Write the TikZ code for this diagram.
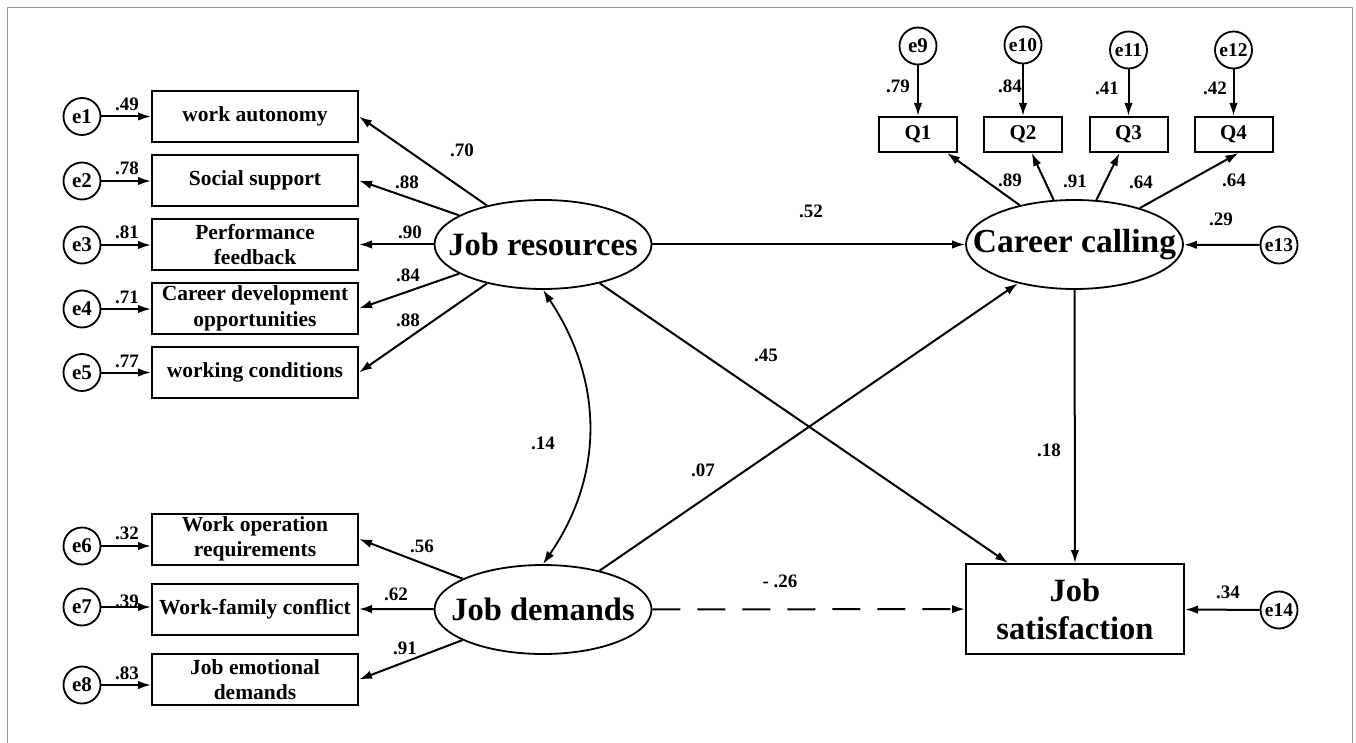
\documentclass[tikz,border=0pt]{standalone}
\usepackage{fontspec}
\setmainfont{Liberation Serif}
\usetikzlibrary{arrows.meta,shapes.geometric,calc}

\begin{document}
\begin{tikzpicture}[x=1pt,y=-1pt,line width=2pt,
  obs/.style={draw,rectangle,minimum width=206pt,minimum height=51pt,inner sep=0pt,align=center,
    font=\bfseries\fontsize{21.5}{25.5}\selectfont},
  qbox/.style={draw,rectangle,minimum width=78pt,minimum height=35pt,inner sep=0pt,
    font=\bfseries\fontsize{21}{24}\selectfont},
  lat/.style={draw,ellipse,minimum width=217pt,minimum height=89pt,inner sep=0pt,line width=1.8pt,
    font=\bfseries\fontsize{32.5}{37}\selectfont},
  outc/.style={draw,rectangle,minimum width=218pt,minimum height=90pt,inner sep=0pt,align=center,
    font=\bfseries\fontsize{32.5}{38}\selectfont},
  err/.style={draw,circle,minimum size=37pt,inner sep=0pt,line width=1.8pt,
    font=\bfseries\fontsize{21}{24}\selectfont},
  errs/.style={err,font=\bfseries\fontsize{19.5}{22}\selectfont},
  lab/.style={inner sep=0pt,font=\bfseries\fontsize{19}{22}\selectfont},
  arr/.style={-{Latex[length=13pt,width=8.5pt]}},
  cov/.style={{Latex[length=13pt,width=8.5pt]}-{Latex[length=13pt,width=8.5pt]},line width=1.8pt},
  longdash/.style={dash pattern=on 28pt off 17pt},
  pageframe/.style={draw={rgb,255:red,150;green,150;blue,150},line width=1.5pt}
]
\useasboundingbox (0,0) rectangle (1356,743);
\draw[pageframe] (7.5,743) -- (7.5,7.5) -- (1352.5,7.5) -- (1352.5,743);

% observed indicators of the two job factors
\node[obs] (wa) at (255,116.5) {work autonomy};
\node[obs] (ss) at (255,180.5) {Social support};
\node[obs] (pf) at (255,244.5) {Performance\\feedback};
\node[obs] (cd) at (255,308.5) {Career development\\opportunities};
\node[obs] (wc) at (255,372.5) {working conditions};
\node[obs] (wo) at (255,539) {Work operation\\requirements};
\node[obs] (wf) at (255,609) {Work-family conflict};
\node[obs] (je) at (255,679.5) {Job emotional\\demands};

% residuals of the indicators
\node[err] (e1) at (82,116.5) {e1};
\node[err] (e2) at (82,181) {e2};
\node[err] (e3) at (82,245) {e3};
\node[err] (e4) at (82,309) {e4};
\node[err] (e5) at (82,372.5) {e5};
\node[err] (e6) at (82,546) {e6};
\node[err] (e7) at (82,607) {e7};
\node[err] (e8) at (82,685) {e8};

% latent variables and outcome
\node[lat] (jr) at (543,244.5) {\makebox[0pt]{Job resources}};
\node[lat] (jd) at (543,609.5) {\makebox[0pt]{Job demands}};
\node[lat,font=\bfseries\fontsize{33.5}{40}\selectfont] (cc) at (1074.5,244.5) {\makebox[0pt]{Career calling}};
\node[outc] (js) at (1075,609) {Job\\satisfaction};

% calling items and their residuals
\node[qbox] (q1) at (918,134.5) {Q1};
\node[qbox] (q2) at (1023,134.5) {Q2};
\node[qbox] (q3) at (1128.5,134.5) {Q3};
\node[qbox] (q4) at (1233.5,134.5) {Q4};
\node[err] (e9) at (918,46) {e9};
\node[errs] (e10) at (1023,45) {e10};
\node[errs] (e11) at (1128.5,50) {e11};
\node[errs] (e12) at (1233.5,50) {e12};
\node[errs] (e13) at (1279,245) {e13};
\node[errs] (e14) at (1279,610) {e14};

% residual paths
\foreach \e in {e1,e2,e3,e4,e5,e6,e7,e8}
  \draw[arr] (\e) -- (\e -| wa.west);
\foreach \e/\b in {e9/q1,e10/q2,e11/q3,e12/q4}
  \draw[arr] (\e) -- (\e |- \b.north);
\draw[arr] (e13) -- (cc);
\draw[arr] (e14) -- (js);

% loadings
\foreach \b in {wa,ss,pf,cd,wc}
  \draw[arr] (jr) -- (\b.east);
\foreach \b in {wo,wf,je}
  \draw[arr] (jd) -- (\b.east);
\draw[arr] (cc) -- ([xshift=29pt]q1.south);
\draw[arr] (cc) -- (q2);
\draw[arr] (cc) -- (q3);
\draw[arr] (cc) -- ([xshift=5pt]q4.south);

% structural paths
\draw[arr] (jr) -- (cc);
\draw[arr] (jr) -- (js);
\draw[arr] (jd) -- (cc);
\draw[arr] (cc) -- (js);
\draw[arr,longdash] (jd) -- (js);
\draw[cov] (jr.south) .. controls +(60,90) and +(62,-90) .. (jd.north);

% coefficients
\node[lab] (l1) at (127,104) {.49};
\node[lab] (l2) at (127,168) {.78};
\node[lab] (l3) at (127,232) {.81};
\node[lab] (l4) at (127,297) {.71};
\node[lab] (l5) at (127,361) {.77};
\node[lab] (l6) at (127,533) {.32};
\node[lab] (l7) at (127,601) {.39};
\node[lab] (l8) at (127,673) {.83};
\node[lab] (l9) at (462,150) {.70};
\node[lab] (l10) at (407,182) {.88};
\node[lab] (l11) at (410,232) {.90};
\node[lab] (l12) at (408,275) {.84};
\node[lab] (l13) at (408,320) {.88};
\node[lab] (l14) at (422,546) {.56};
\node[lab] (l15) at (396,594) {.62};
\node[lab] (l16) at (405,648) {.91};
\node[lab] (l17) at (543,443) {.14};
\node[lab] (l18) at (703,470) {.07};
\node[lab] (l19) at (780,581) {- .26};
\node[lab] (l20) at (811,211) {.52};
\node[lab] (l21) at (766,355) {.45};
\node[lab] (l22) at (1049,450) {.18};
\node[lab] (l23) at (898,86) {.79};
\node[lab] (l24) at (1010,86) {.84};
\node[lab] (l25) at (1107,88) {.41};
\node[lab] (l26) at (1215,88) {.42};
\node[lab] (l27) at (1010,180) {.89};
\node[lab] (l28) at (1075,181) {.91};
\node[lab] (l29) at (1141,182) {.64};
\node[lab] (l30) at (1234,180) {.64};
\node[lab] (l31) at (1221,219) {.29};
\node[lab] (l32) at (1228,592) {.34};
\end{tikzpicture}
\end{document}
